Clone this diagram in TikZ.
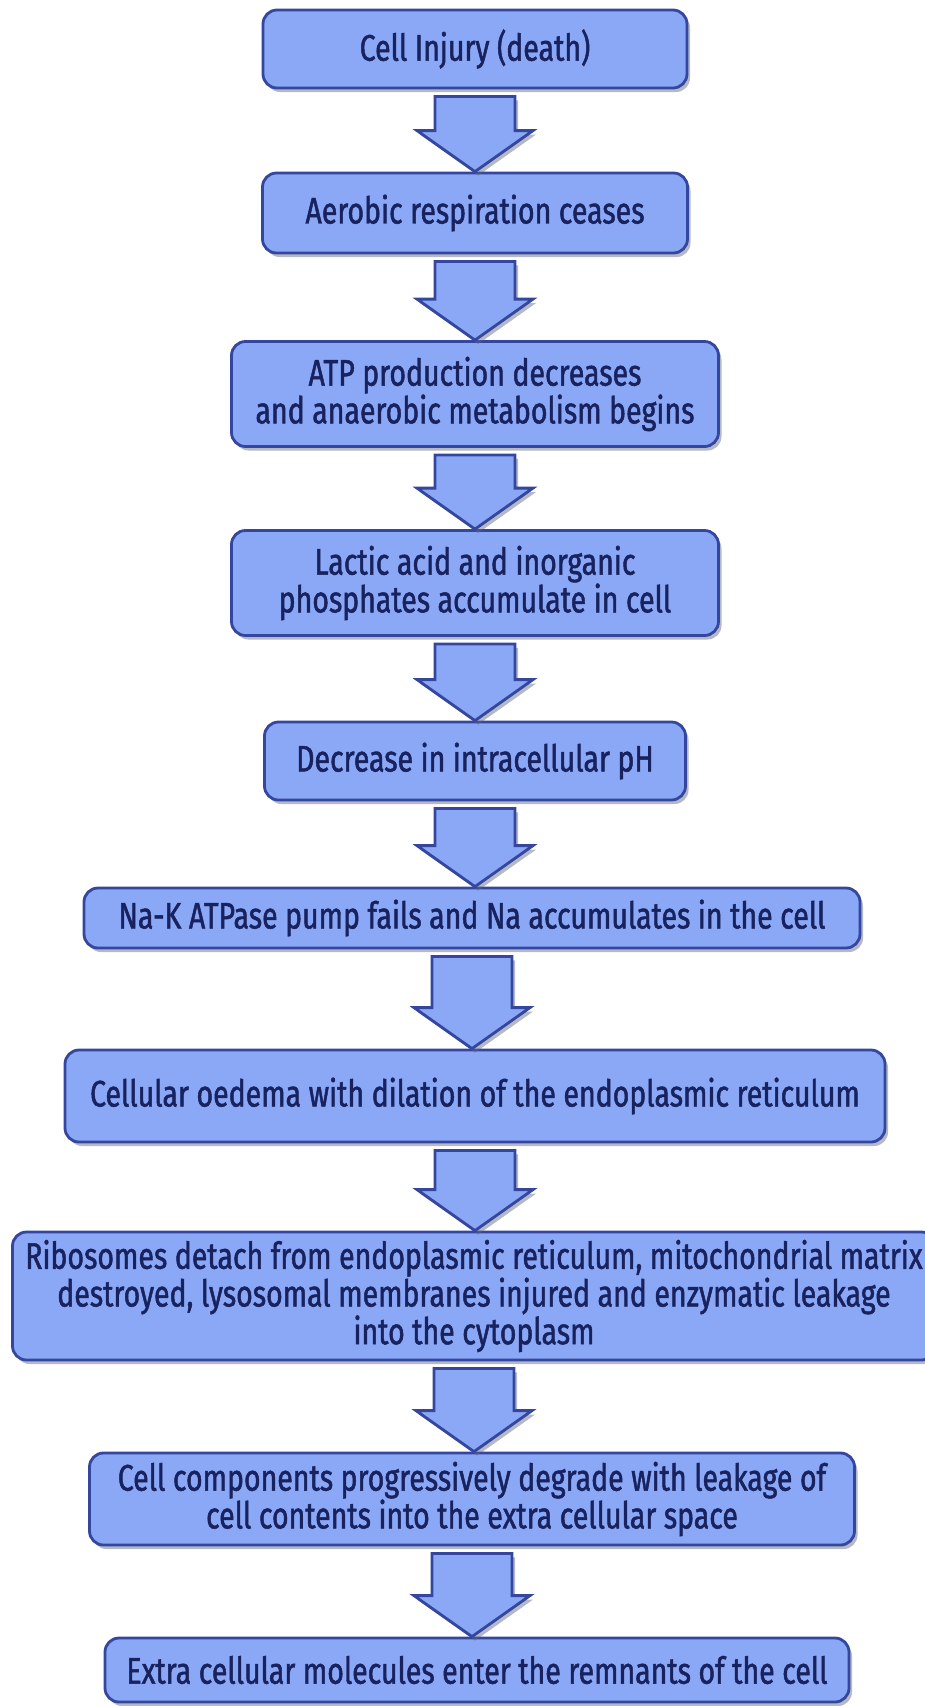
\documentclass[tikz,border=0pt]{standalone}
\usepackage{fontspec}
\setmainfont{Fira Sans}[FakeStretch=0.77,FakeBold=1.3]
\usetikzlibrary{calc,shadows}
\definecolor{cfill}{HTML}{8AA8F6}
\definecolor{cline}{HTML}{34469E}
\definecolor{ctext}{HTML}{18225E}
\definecolor{cshad}{HTML}{5C6480}
\tikzset{
  stepbox/.style={draw=cline,fill=cfill,rounded corners=14pt,line width=2.8pt,align=center,
    text=ctext,font=\fontsize{37}{33}\selectfont,inner sep=0pt,
    drop shadow={shadow xshift=3pt,shadow yshift=-4pt,fill=cshad,opacity=0.45}},
  blk/.style={draw=cline,fill=cfill,line width=2.8pt,line join=miter,
    drop shadow={shadow xshift=3pt,shadow yshift=-4pt,fill=cshad,opacity=0.45},
    to path={let \p1=(\tikztostart), \p2=(\tikztotarget) in
      (\x1-40pt,\y1-7pt) -- (\x1+40pt,\y1-7pt) -- (\x1+40pt,\y2+41pt) -- (\x1+58pt,\y2+41pt)
      -- (\x1,\y2) -- (\x1-58pt,\y2+41pt) -- (\x1-40pt,\y2+41pt) -- cycle}},
}
\begin{document}
\begin{tikzpicture}[x=1pt,y=-1pt]
  \useasboundingbox[fill=white] (0,0) rectangle (925,1706);
  % steps
  \node[stepbox,minimum width=424pt,minimum height=78pt] (s1) at (475,49) {Cell Injury (death)};
  \node[stepbox,minimum width=425pt,minimum height=80pt] (s2) at (475,213) {Aerobic respiration ceases};
  \node[stepbox,minimum width=487pt,minimum height=105pt] (s3) at (475,394) {ATP production decreases\\and anaerobic metabolism begins};
  \node[stepbox,minimum width=487pt,minimum height=105pt] (s4) at (475,583) {Lactic acid and inorganic\\phosphates accumulate in cell};
  \node[stepbox,minimum width=421pt,minimum height=78pt] (s5) at (475,761) {Decrease in intracellular pH};
  \node[stepbox,minimum width=776pt,minimum height=60pt] (s6) at (472,918) {Na-K ATPase pump fails and Na accumulates in the cell};
  \node[stepbox,minimum width=820pt,minimum height=92pt] (s7) at (475,1096) {Cellular oedema with dilation of the endoplasmic reticulum};
  \node[stepbox,minimum width=923pt,minimum height=128pt] (s8) at (474,1296) {Ribosomes detach from endoplasmic reticulum, mitochondrial matrix\\destroyed, lysosomal membranes injured and enzymatic leakage\\into the cytoplasm};
  \node[stepbox,minimum width=765pt,minimum height=92pt] (s9) at (472,1499) {Cell components progressively degrade with leakage of\\cell contents into the extra cellular space};
  \node[stepbox,minimum width=744pt,minimum height=64pt] (s10) at (477,1670) {Extra cellular molecules enter the remnants of the cell};
  % block arrows
  \foreach \a/\b in {s1/s2,s2/s3,s3/s4,s4/s5,s5/s6,s6/s7,s7/s8,s8/s9,s9/s10}
    \draw[blk] (\a.south) to (\a.south |- \b.north);
\end{tikzpicture}
\end{document}
